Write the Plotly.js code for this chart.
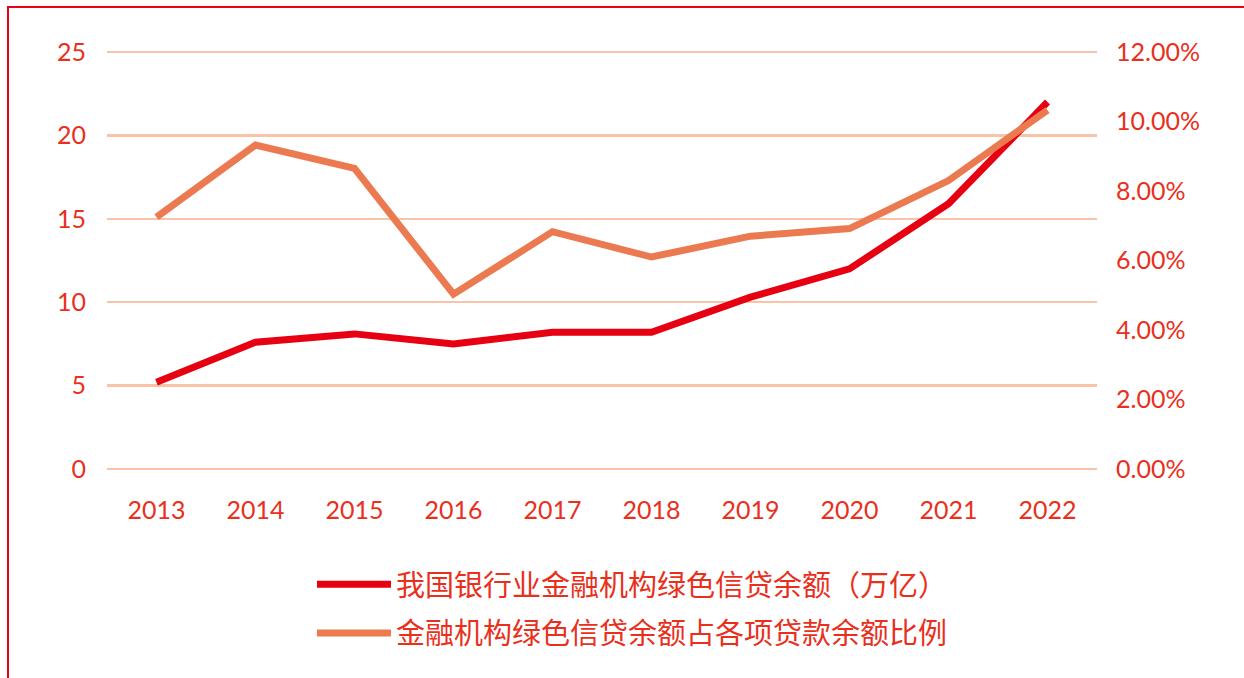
<!DOCTYPE html>
<html>
<head>
<meta charset="utf-8">
<script src="https://cdn.plot.ly/plotly-3.0.1.min.js"></script>
<style>
  html, body { margin: 0; padding: 0; background: #ffffff; }
  #frame { position: absolute; left: 7px; top: 6px; width: 1300px; height: 800px;
           border-left: 2px solid #e8001c; border-top: 2px solid #e8001c; pointer-events: none; }
  #chart { width: 1244px; height: 678px; }
</style>
</head>
<body>
<div id="chart"></div>
<div id="frame"></div>
<script>
// Data
const years = ["2013", "2014", "2015", "2016", "2017", "2018", "2019", "2020", "2021", "2022"];
const greenLoanBalance = [5.2, 7.6, 8.1, 7.5, 8.2, 8.2, 10.3, 12.0, 15.9, 22.0];   // 万亿
const greenLoanShare = [0.0725, 0.0932, 0.0865, 0.0503, 0.0683, 0.0610, 0.0670, 0.0692, 0.0830, 0.1033];
const leftTicks = [0, 5, 10, 15, 20, 25];
const rightTicks = [0, 0.02, 0.04, 0.06, 0.08, 0.10, 0.12];
const seriesNames = ["我国银行业金融机构绿色信贷余额（万亿）", "金融机构绿色信贷余额占各项贷款余额比例"];

const textColor = "#e8301c";
const numFont = "Lato, 'Open Sans', 'DejaVu Sans', sans-serif";
const cjkFont = "'Noto Sans CJK SC', 'Noto Sans', sans-serif";

const eps = 0.12;  // small padding so the 0 and 25 gridlines are drawn

const traces = [
  {
    x: years, y: greenLoanBalance, name: seriesNames[0], type: "scatter", mode: "lines",
    line: { color: "#e60012", width: 7 }, yaxis: "y", legendgroup: "a"
  },
  {
    x: years, y: greenLoanShare, name: seriesNames[1], type: "scatter", mode: "lines",
    line: { color: "#ec7a50", width: 7 }, yaxis: "y2", legendgroup: "b"
  }
];

const layout = {
  width: 1244, height: 678,
  margin: { l: 107, r: 147, t: 50, b: 207, autoexpand: false },
  paper_bgcolor: "#ffffff", plot_bgcolor: "#ffffff",
  font: { family: numFont, size: 25, color: textColor },
  xaxis: {
    type: "category", range: [-0.5, years.length - 0.5], showgrid: false, zeroline: false, showline: false,
    ticks: "", ticklabelstandoff: 22, tickangle: 0, automargin: false,
    tickfont: { family: numFont, size: 25, color: textColor }
  },
  yaxis: {
    range: [-eps, 25 + eps], tickvals: leftTicks, showgrid: true, gridcolor: "#f9c3aa", gridwidth: 2.5,
    zeroline: false, showline: false, ticks: "", ticklabelstandoff: 20, automargin: false,
    tickfont: { family: numFont, size: 25, color: textColor }
  },
  yaxis2: {
    range: [-eps * 0.12 / 25, 0.12 + eps * 0.12 / 25], tickvals: rightTicks,
    tickformat: ".2%", overlaying: "y", side: "right", automargin: false,
    showgrid: false, zeroline: false, showline: false, ticks: "", ticklabelstandoff: 18,
    tickfont: { family: numFont, size: 25, color: textColor }
  },
  showlegend: true,
  legend: {
    xref: "container", yref: "container", x: 312 / 1244, y: 1 - 559 / 678,
    xanchor: "left", yanchor: "top", orientation: "v",
    font: { family: cjkFont, size: 29, color: textColor },
    bgcolor: "rgba(0,0,0,0)", itemwidth: 74, tracegroupgap: 8, traceorder: "grouped"
  }
};

Plotly.newPlot("chart", traces, layout, { displayModeBar: false, staticPlot: true });
</script>
</body>
</html>
